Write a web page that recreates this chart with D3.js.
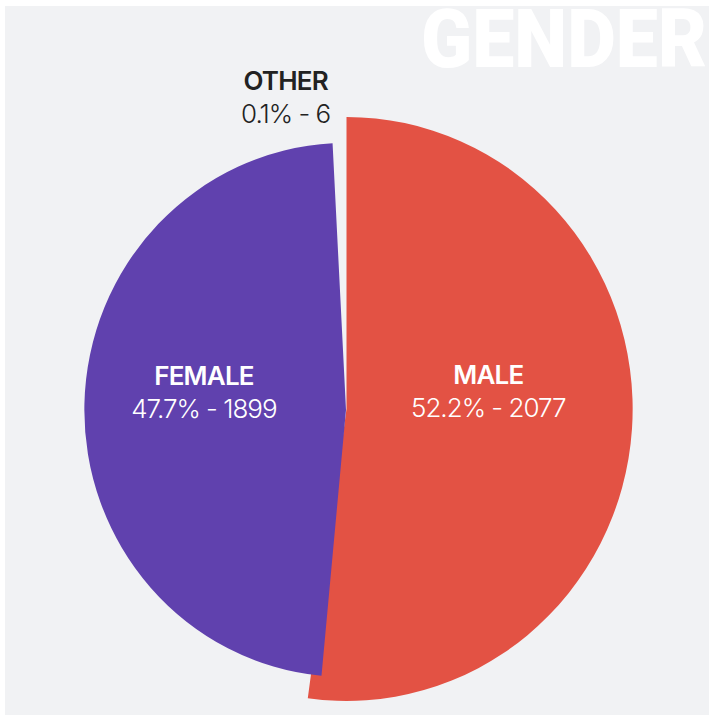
<!DOCTYPE html>
<html>
<head>
<meta charset="utf-8">
<script src="https://cdn.jsdelivr.net/npm/d3@7/dist/d3.min.js"></script>
<style>
  html, body { margin: 0; padding: 0; background: #ffffff; }
  svg { display: block; }
</style>
</head>
<body>
<svg id="chart" width="709" height="715"></svg>
<script>
// data
const categories = ["MALE", "FEMALE", "OTHER"];
const counts = [2077, 1899, 6];
const percents = ["52.2%", "47.7%", "0.1%"];
const title = "GENDER";

const width = 709, height = 715;
const colors = {MALE: "#e35244", FEMALE: "#6041ae", OTHER: "#f1f2f4"};
// each slice is drawn a little differently (own radius, vertex, tilt)
const sliceStyle = {
  MALE:   {r: 292, cx: 346.5, cy: 409, rot: 0},
  FEMALE: {r: 267, cx: 346,   cy: 410, rot: -2.4},
  OTHER:  {r: 267, cx: 346,   cy: 410, rot: -2.4}
};
const xSquash = 0.98;

const svg = d3.select("#chart");

svg.append("rect")
  .attr("x", 5).attr("y", 6)
  .attr("width", width - 5).attr("height", height - 6)
  .attr("fill", "#f1f2f4");

svg.append("text")
  .attr("x", 421).attr("y", 67)
  .attr("fill", "#ffffff")
  .attr("font-family", "Roboto, Inter, sans-serif")
  .attr("font-weight", 900)
  .attr("font-size", 82)
  .attr("textLength", 286)
  .attr("lengthAdjust", "spacingAndGlyphs")
  .text(title);

const data = categories.map((c, i) => ({cat: c, count: counts[i], pct: percents[i]}));

const pie = d3.pie().sort(null).value(d => d.count);
const arcs = pie(data);

const g = svg.append("g");

arcs.forEach(a => {
  const s = sliceStyle[a.data.cat];
  if (a.endAngle - a.startAngle < 0.01) return; // too thin to see
  const arc = d3.arc().innerRadius(0).outerRadius(s.r);
  g.append("path")
    .attr("transform", `translate(${s.cx},${s.cy}) scale(${xSquash},1) rotate(${s.rot})`)
    .attr("d", arc(a))
    .attr("fill", colors[a.data.cat]);
});

// labels
const labels = svg.append("g")
  .attr("font-family", "Inter, Roboto, sans-serif")
  .attr("text-anchor", "middle");

arcs.forEach(a => {
  const s = sliceStyle[a.data.cat];
  const mid = (a.startAngle + a.endAngle) / 2 + s.rot * Math.PI / 180;
  let lx, ly, fill;
  if (a.endAngle - a.startAngle < 0.01) {
    // outside label, up and left of the thin slice
    const ang = mid - 8.5 * Math.PI / 180, rr = 318;
    lx = s.cx + xSquash * rr * Math.sin(ang);
    ly = s.cy - rr * Math.cos(ang);
    fill = "#222222";
  } else {
    const rr = 145;
    lx = s.cx + xSquash * rr * Math.sin(mid);
    ly = s.cy - 17;
    fill = "#ffffff";
  }
  const t = labels.append("g").attr("transform", `translate(${lx},${ly})`).attr("fill", fill);
  t.append("text")
    .attr("y", -8)
    .attr("font-size", 26)
    .attr("font-weight", 600)
    .attr("letter-spacing", -0.8)
    .text(a.data.cat);
  t.append("text")
    .attr("y", 25)
    .attr("font-size", 26)
    .attr("font-weight", 300)
    .attr("letter-spacing", -1)
    .text(`${a.data.pct} - ${a.data.count}`);
});
</script>
</body>
</html>
